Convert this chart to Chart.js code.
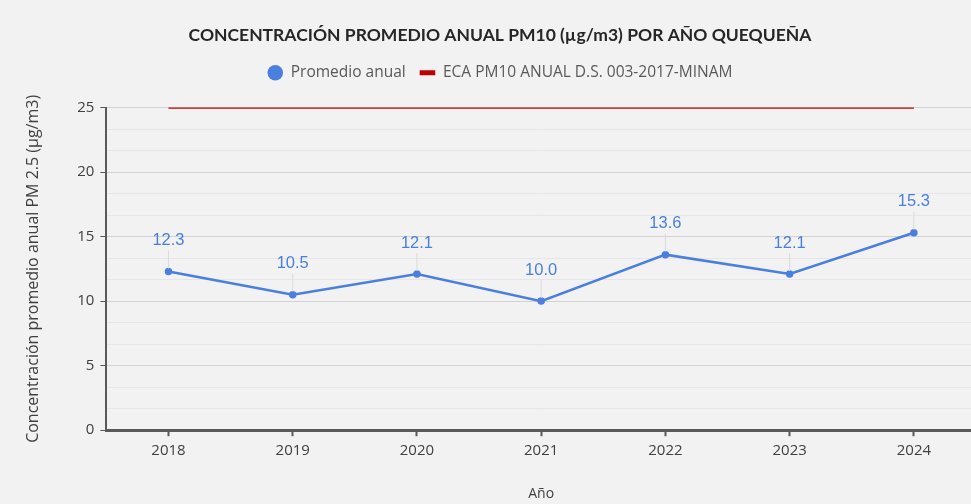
<!DOCTYPE html>
<html>
<head>
<meta charset="utf-8">
<script src="https://cdn.jsdelivr.net/npm/chart.js@4.4.1/dist/chart.umd.min.js"></script>
<style>
    html, body { margin: 0; padding: 0; background: #f2f2f2; overflow: hidden; }
    #wrap { width: 990px; height: 504px; position: relative; }
</style>
</head>
<body>
<div id="wrap"><canvas id="chart"></canvas></div>
<script>
const years = ['2018', '2019', '2020', '2021', '2022', '2023', '2024'];
const promedioAnual = [12.3, 10.5, 12.1, 10.0, 13.6, 12.1, 15.3];
const ecaLimite = [25, 25, 25, 25, 25, 25, 25];
const yTicks = [0, 5, 10, 15, 20, 25];

const azul = '#4a7fe0';
const rojo = '#c00000';

// etiquetas de datos con su linea guia
const etiquetas = {
    id: 'etiquetas',
    afterDatasetsDraw(chart) {
        const ctx = chart.ctx;
        const meta = chart.getDatasetMeta(0);
        ctx.save();
        meta.data.forEach((pt, i) => {
            ctx.strokeStyle = '#dadada';
            ctx.lineWidth = 1;
            ctx.beginPath();
            ctx.moveTo(pt.x, pt.y - 21);
            ctx.lineTo(pt.x, pt.y - 3);
            ctx.stroke();
            ctx.fillStyle = azul;
            ctx.font = '16.5px "Liberation Sans", Arial, sans-serif';
            ctx.textAlign = 'center';
            ctx.textBaseline = 'middle';
            ctx.fillText(promedioAnual[i].toFixed(1), pt.x, pt.y - 31);
        });
        ctx.restore();
    }
};

// mas espacio bajo la leyenda
const espacioLeyenda = {
    id: 'espacioLeyenda',
    beforeInit(chart) {
        const fitOrig = chart.legend.fit;
        chart.legend.fit = function () {
            fitOrig.bind(chart.legend)();
            this.height += 17;
        };
    }
};

function esMayor(v) {
    return yTicks.some(t => Math.abs(t - v) < 1e-6);
}

const ctx = document.getElementById('chart').getContext('2d');
new Chart(ctx, {
    type: 'line',
    data: {
        labels: years,
        datasets: [{
            label: 'Promedio anual',
            data: promedioAnual,
            borderColor: azul,
            backgroundColor: azul,
            borderWidth: 2.5,
            pointRadius: 2.5,
            pointStyle: 'circle',
            tension: 0,
            fill: false
        }, {
            label: 'ECA PM10 ANUAL D.S. 003-2017-MINAM',
            data: ecaLimite,
            borderColor: rojo,
            backgroundColor: rojo,
            borderWidth: 2.5,
            pointRadius: 0,
            pointStyle: 'line',
            fill: false
        }]
    },
    options: {
        responsive: true,
        maintainAspectRatio: false,
        animation: false,
        layout: { padding: { top: 8, right: 14, left: 24, bottom: 2 } },
        plugins: {
            title: {
                display: true,
                text: 'CONCENTRACIÓN PROMEDIO ANUAL PM10 (µg/m3) POR AÑO QUEQUEÑA',
                color: '#262626',
                font: { family: 'Lato', size: 17.5, weight: 'bold' },
                padding: { top: 17, bottom: 5 }
            },
            legend: {
                position: 'top',
                labels: {
                    usePointStyle: true,
                    boxHeight: 11,
                    color: '#595959',
                    font: { family: 'Open Sans', size: 15.5 },
                    padding: 14,
                    generateLabels(chart) {
                        return chart.data.datasets.map((ds, i) => ({
                            text: ds.label,
                            fillStyle: ds.borderColor,
                            strokeStyle: ds.borderColor,
                            lineWidth: i === 0 ? 0 : 5,
                            pointStyle: i === 0 ? 'circle' : 'line',
                            datasetIndex: i,
                            fontColor: '#595959'
                        }));
                    }
                }
            },
            tooltip: { enabled: false }
        },
        scales: {
            x: {
                offset: true,
                grid: {
                    offset: false,
                    drawOnChartArea: false,
                    drawTicks: true,
                    tickLength: 6,
                    tickColor: '#595959',
                    tickWidth: 2
                },
                border: { color: '#595959', width: 3 },
                ticks: {
                    color: '#404040',
                    font: { family: 'Open Sans', size: 15 },
                    padding: 6
                },
                title: {
                    display: true,
                    text: 'Año',
                    color: '#404040',
                    font: { family: 'Open Sans', size: 14 },
                    padding: { top: 19, bottom: 0 }
                }
            },
            y: {
                min: 0,
                max: 25,
                afterBuildTicks(scale) {
                    const t = [];
                    for (let i = 0; i <= 15; i++) t.push({ value: i * 5 / 3 });
                    scale.ticks = t;
                },
                grid: {
                    color: c => esMayor(c.tick.value) ? '#d2d2d2' : '#e6e6e6',
                    lineWidth: 1,
                    tickLength: 6,
                    tickColor: c => esMayor(c.tick.value) ? '#595959' : 'rgba(0,0,0,0)'
                },
                border: { color: '#595959', width: 2 },
                ticks: {
                    color: '#404040',
                    font: { family: 'Open Sans', size: 15 },
                    padding: 6,
                    autoSkip: false,
                    callback: v => esMayor(v) ? String(Math.round(v)) : ''
                },
                title: {
                    display: true,
                    text: 'Concentración promedio anual PM 2.5 (µg/m3)',
                    color: '#404040',
                    font: { family: 'Open Sans', size: 16 },
                    padding: { top: 0, bottom: 28 }
                }
            }
        }
    },
    plugins: [etiquetas, espacioLeyenda]
});
</script>
</body>
</html>
